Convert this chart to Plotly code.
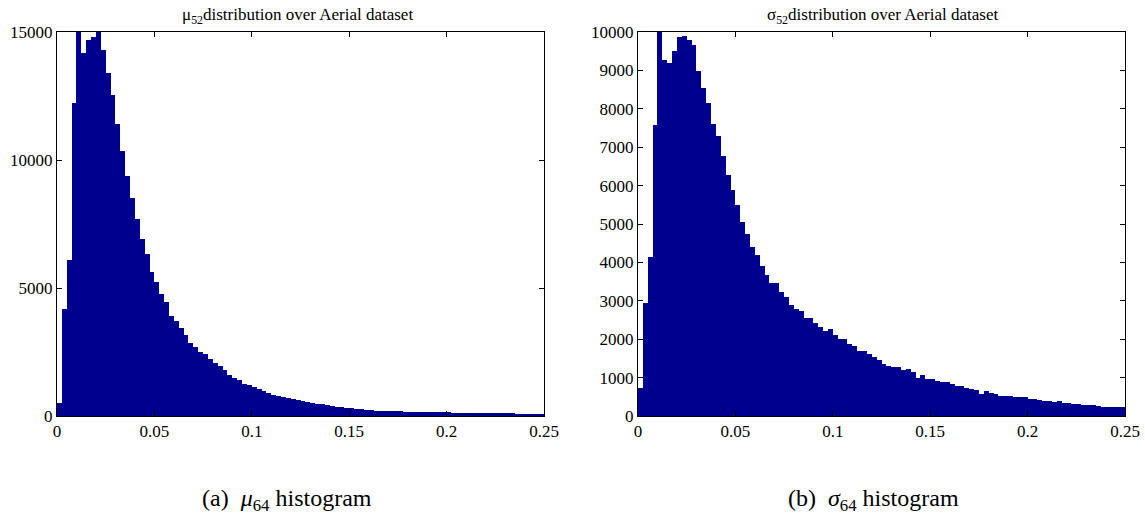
import plotly.graph_objects as go

# ---- data ----
bin_width = 0.0025
n_bins = 100

mu_counts = [
    520, 4190, 6090, 12210, 15300, 14170, 14690, 14790, 15100, 14300,
    13410, 12540, 11400, 10360, 9390, 8500, 7710, 6910, 6340, 5620,
    5230, 4780, 4450, 3900, 3700, 3430, 3160, 2870, 2680, 2510,
    2420, 2230, 2080, 1950, 1800, 1610, 1480, 1410, 1260, 1200,
    1120, 1060, 960, 900, 840, 780, 740, 700, 660, 610,
    570, 540, 510, 470, 450, 420, 380, 360, 340, 320,
    300, 280, 265, 245, 230, 215, 205, 195, 190, 185,
    180, 175, 170, 165, 160, 155, 150, 148, 145, 142,
    140, 135, 130, 128, 125, 122, 120, 118, 115, 112,
    110, 105, 100, 98, 95, 92, 90, 85, 82, 80,
]

sigma_counts = [
    720, 2930, 4130, 7590, 10300, 9270, 9180, 9510, 9860, 9900,
    9790, 9660, 8990, 8530, 8140, 7600, 7300, 6770, 6280, 5890,
    5490, 5060, 4730, 4400, 4190, 3910, 3670, 3470, 3460, 3220,
    3110, 2890, 2790, 2730, 2540, 2560, 2410, 2310, 2220, 2260,
    2110, 2000, 2000, 1875, 1820, 1700, 1700, 1615, 1545, 1460,
    1345, 1300, 1270, 1270, 1200, 1215, 1145, 1000, 1070, 970,
    955, 910, 895, 895, 835, 780, 780, 730, 710, 680,
    565, 650, 610, 575, 530, 520, 520, 485, 500, 500,
    450, 435, 415, 400, 400, 365, 380, 345, 330, 315,
    320, 285, 285, 280, 260, 235, 225, 225, 225, 225,
]

x_ticks = [0, 0.05, 0.1, 0.15, 0.2, 0.25]
x_tick_labels = ["0", "0.05", "0.1", "0.15", "0.2", "0.25"]
mu_y_ticks = [0, 5000, 10000, 15000]
sigma_y_ticks = [0, 1000, 2000, 3000, 4000, 5000, 6000, 7000, 8000, 9000, 10000]

mu_title = "μ<sub>52</sub>distribution over Aerial dataset"
sigma_title = "σ<sub>52</sub>distribution over Aerial dataset"
caption_a = "(a)  <i>μ</i><sub>64</sub> histogram"
caption_b = "(b)  <i>σ</i><sub>64</sub> histogram"

bin_centers = [bin_width * (i + 0.5) for i in range(n_bins)]

# ---- figure ----
W, H = 1145, 520
BAR = "#00008F"
FONT = "Liberation Serif"

fig = go.Figure()
fig.add_trace(go.Bar(x=bin_centers, y=mu_counts, width=bin_width,
                     marker=dict(color=BAR, line=dict(width=0)),
                     xaxis="x", yaxis="y", showlegend=False))
fig.add_trace(go.Bar(x=bin_centers, y=sigma_counts, width=bin_width,
                     marker=dict(color=BAR, line=dict(width=0)),
                     xaxis="x2", yaxis="y2", showlegend=False))

def px_x(p):
    return p / W

def px_y(p):
    return 1 - p / H

axis_common = dict(showgrid=False, zeroline=False, showline=True, linecolor="black",
                   linewidth=1, mirror="ticks", ticks="inside", ticklen=5,
                   tickcolor="black", automargin=False,
                   tickfont=dict(family=FONT, size=17, color="black"))

fig.update_layout(
    template="none",
    width=W, height=H,
    margin=dict(l=0, r=0, t=0, b=0, pad=0),
    paper_bgcolor="white", plot_bgcolor="white",
    bargap=0,
    font=dict(family=FONT, color="black"),
    xaxis=dict(domain=[px_x(57), px_x(544)], range=[0, 0.25], anchor="y",
               tickvals=x_ticks, ticktext=x_tick_labels, **axis_common),
    yaxis=dict(domain=[px_y(416), px_y(32)], range=[0, 15000], anchor="x",
               tickvals=mu_y_ticks, ticktext=[str(v) for v in mu_y_ticks], **axis_common),
    xaxis2=dict(domain=[px_x(638), px_x(1125)], range=[0, 0.25], anchor="y2",
                tickvals=x_ticks, ticktext=x_tick_labels, **axis_common),
    yaxis2=dict(domain=[px_y(416), px_y(32)], range=[0, 10000], anchor="x2",
                tickvals=sigma_y_ticks, ticktext=[str(v) for v in sigma_y_ticks], **axis_common),
)

annotations = [
    dict(text=mu_title, x=px_x(298), y=px_y(29), xref="paper", yref="paper",
         xanchor="center", yanchor="bottom", showarrow=False,
         font=dict(family=FONT, size=17, color="black")),
    dict(text=sigma_title, x=px_x(882), y=px_y(29), xref="paper", yref="paper",
         xanchor="center", yanchor="bottom", showarrow=False,
         font=dict(family=FONT, size=17, color="black")),
    dict(text=caption_a, x=px_x(287), y=px_y(500), xref="paper", yref="paper",
         xanchor="center", yanchor="middle", showarrow=False,
         font=dict(family=FONT, size=24, color="black")),
    dict(text=caption_b, x=px_x(873), y=px_y(500), xref="paper", yref="paper",
         xanchor="center", yanchor="middle", showarrow=False,
         font=dict(family=FONT, size=24, color="black")),
]
fig.update_layout(annotations=annotations)

fig.write_html("out.html")
